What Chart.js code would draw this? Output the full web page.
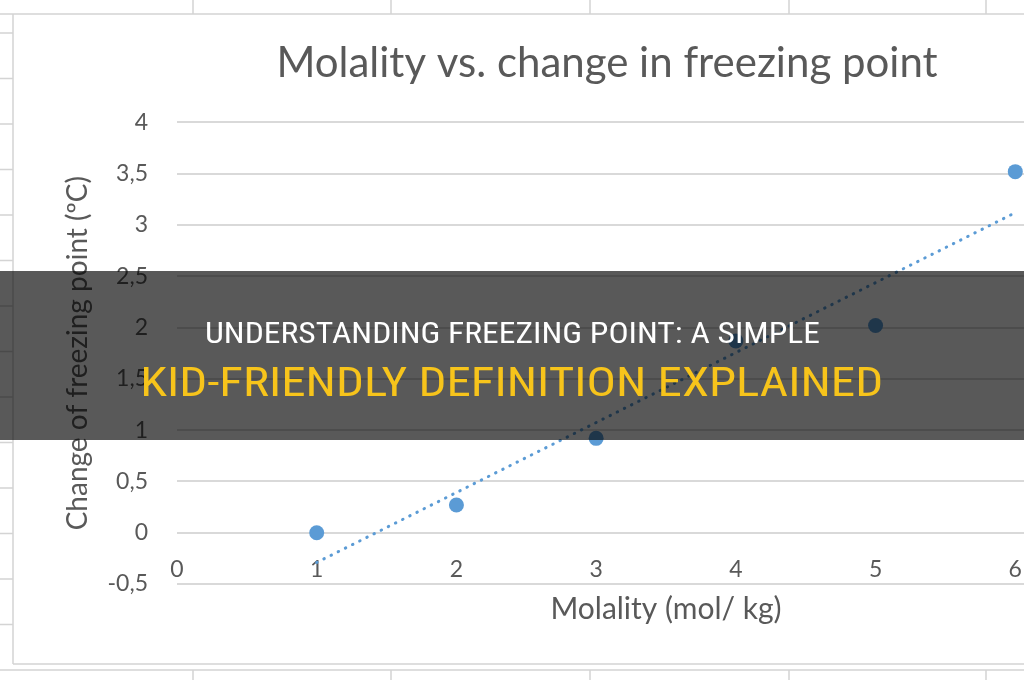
<!DOCTYPE html>
<html>
<head>
<meta charset="utf-8">
<script src="https://cdn.jsdelivr.net/npm/chart.js@4.4.1/dist/chart.umd.min.js"></script>
<style>
  html, body { margin: 0; padding: 0; width: 1024px; height: 680px; overflow: hidden; background: #fff; }
  #wrap { position: relative; width: 1214px; height: 680px; }
  #band { position: absolute; left: 0; top: 271px; width: 1024px; height: 169px; background: rgba(0, 0, 0, 0.65); }
  .line { position: absolute; left: 0; width: 1024px; text-align: center; white-space: nowrap;
          font-family: "Liberation Sans Narrow", "Roboto Condensed", Roboto, sans-serif; }
  .line span { display: inline-block; transform-origin: center; }
  #l1 { top: 317px; font-size: 29px; line-height: 33px; color: #fff; }
  #l2 { top: 360px; font-size: 41px; line-height: 45px; color: #f7c41b; }
</style>
</head>
<body>
<div id="wrap">
  <canvas id="chart" width="1214" height="680"></canvas>
  <div id="band"></div>
  <div class="line" id="l1"><span data-w="615">UNDERSTANDING FREEZING POINT: A SIMPLE</span></div>
  <div class="line" id="l2"><span data-w="743">KID-FRIENDLY DEFINITION EXPLAINED</span></div>
</div>
<script>
"use strict";
// values
var molality = [1, 2, 3, 4, 5, 6];
var freezeChange = [0, 0.27, 0.92, 1.87, 2.02, 3.52];
var trendX = [1, 6];
var trendY = [-0.29, 3.12];
var xTicks = [0, 1, 2, 3, 4, 5, 6, 7];
var yTicks = [-0.5, 0, 0.5, 1, 1.5, 2, 2.5, 3, 3.5, 4];

var textGrey = "#595959";
var blue = "#5B9BD5";

// spreadsheet cells behind the chart object
var sheet = {
    id: "sheet",
    beforeDraw: function(c){
        var ctx = c.ctx;
        ctx.save();
        ctx.strokeStyle = "#d4d4d4";
        ctx.lineWidth = 1.5;
        ctx.beginPath();
        [193, 391, 590, 789, 986, 1185].forEach(function(x){
            ctx.moveTo(x, 0); ctx.lineTo(x, 14);
            ctx.moveTo(x, 670); ctx.lineTo(x, 680);
        });
        for (var y = 33; y < 670; y += 45.5) {
            ctx.moveTo(0, y); ctx.lineTo(13, y);
        }
        ctx.moveTo(0, 14); ctx.lineTo(1214, 14);
        ctx.moveTo(13, 14); ctx.lineTo(13, 664);
        ctx.moveTo(13, 664); ctx.lineTo(1214, 664);
        ctx.moveTo(0, 670); ctx.lineTo(1214, 670);
        ctx.stroke();
        ctx.restore();
    }
};

function fmt(v){
    return String(v).replace(".", ",");
}

var chart = new Chart(document.getElementById("chart").getContext("2d"), {
    data: {
        datasets: [
            {
                type: "scatter",
                data: molality.map(function(m, i){ return {x: m, y: freezeChange[i]}; }),
                backgroundColor: blue,
                borderWidth: 0,
                pointRadius: 7.5,
                pointHoverRadius: 7.5
            },
            {
                type: "line",
                data: trendX.map(function(m, i){ return {x: m, y: trendY[i]}; }),
                borderColor: blue,
                borderWidth: 3,
                borderDash: [0.5, 7.5],
                borderCapStyle: "round",
                pointRadius: 0,
                fill: false
            }
        ]
    },
    options: {
        responsive: false,
        animation: false,
        layout: { padding: { left: 59, right: 59, top: 0, bottom: 96 } },
        plugins: {
            legend: { display: false },
            tooltip: { enabled: false },
            title: {
                display: true,
                text: "Molality vs. change in freezing point",
                color: textGrey,
                font: { family: "Lato", size: 42, weight: "normal" },
                padding: { top: 38, bottom: 34 }
            }
        },
        scales: {
            x: {
                type: "linear",
                position: { y: 0 },
                min: 0,
                max: 7,
                afterBuildTicks: function(s){ s.ticks = xTicks.map(function(v){ return {value: v}; }); },
                afterFit: function(s){ s.height = 96; },
                grid: { display: false, drawTicks: false },
                border: { display: false },
                ticks: { color: textGrey, font: { family: "Lato", size: 23 }, padding: 23 },
                title: {
                    display: true,
                    text: "Molality (mol/ kg)",
                    color: textGrey,
                    font: { family: "Lato", size: 30 },
                    padding: { top: 0, bottom: 1 }
                }
            },
            y: {
                min: -0.5,
                max: 4,
                afterBuildTicks: function(s){ s.ticks = yTicks.map(function(v){ return {value: v}; }); },
                afterFit: function(s){ s.width = 118; },
                grid: { color: "#d9d9d9", lineWidth: 2, drawTicks: false },
                border: { display: false },
                ticks: { color: textGrey, font: { family: "Lato", size: 23 }, padding: 29, callback: fmt },
                title: {
                    display: true,
                    text: "Change of freezing point (ºC)",
                    color: textGrey,
                    font: { family: "Lato", size: 28 },
                    padding: { top: 2, bottom: 0 }
                }
            }
        }
    },
    plugins: [sheet]
});

// squeeze the headline lines to the width they have in the picture
document.querySelectorAll(".line span").forEach(function(sp){
    var w = sp.getBoundingClientRect().width;
    sp.style.transform = "scaleX(" + (parseFloat(sp.dataset.w) / w) + ")";
});
</script>
</body>
</html>
